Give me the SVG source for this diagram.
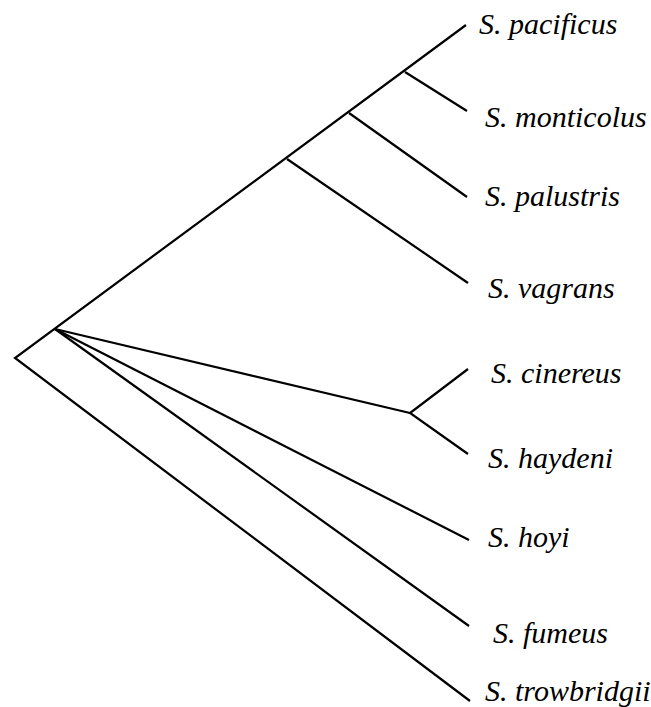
<svg xmlns="http://www.w3.org/2000/svg" width="651" height="707" viewBox="0 0 651 707">
<style>
.e{stroke:#000;stroke-width:2.2;fill:none;stroke-linecap:butt;stroke-linejoin:miter}
.t{font-family:"Liberation Serif","Times New Roman",serif;font-style:italic;font-size:30px;fill:#000}
</style>
<rect width="651" height="707" fill="#fff"/>
<g id="connectors">
<polyline class="e" points="470,701 15,358 466,25"/>
<line class="e" x1="405" y1="72" x2="467" y2="111"/>
<line class="e" x1="349" y1="113" x2="467" y2="197"/>
<line class="e" x1="287" y1="159" x2="468" y2="283"/>
<line class="e" x1="55" y1="329" x2="410" y2="413"/>
<polyline class="e" points="468,369 410,413 468,454"/>
<line class="e" x1="55" y1="329" x2="469" y2="540"/>
<line class="e" x1="55" y1="329" x2="469" y2="626"/>
</g>
<g id="pacificus"><text class="t" x="479" y="34">S. pacificus</text></g>
<g id="monticolus"><text class="t" x="485" y="127">S. monticolus</text></g>
<g id="palustris"><text class="t" x="485" y="206">S. palustris</text></g>
<g id="vagrans"><text class="t" x="488" y="298">S. vagrans</text></g>
<g id="cinereus"><text class="t" x="491" y="383">S. cinereus</text></g>
<g id="haydeni"><text class="t" x="488" y="468">S. haydeni</text></g>
<g id="hoyi"><text class="t" x="488" y="547">S. hoyi</text></g>
<g id="fumeus"><text class="t" x="493" y="643">S. fumeus</text></g>
<g id="trowbridgii"><text class="t" x="485" y="701">S. trowbridgii</text></g>
</svg>
